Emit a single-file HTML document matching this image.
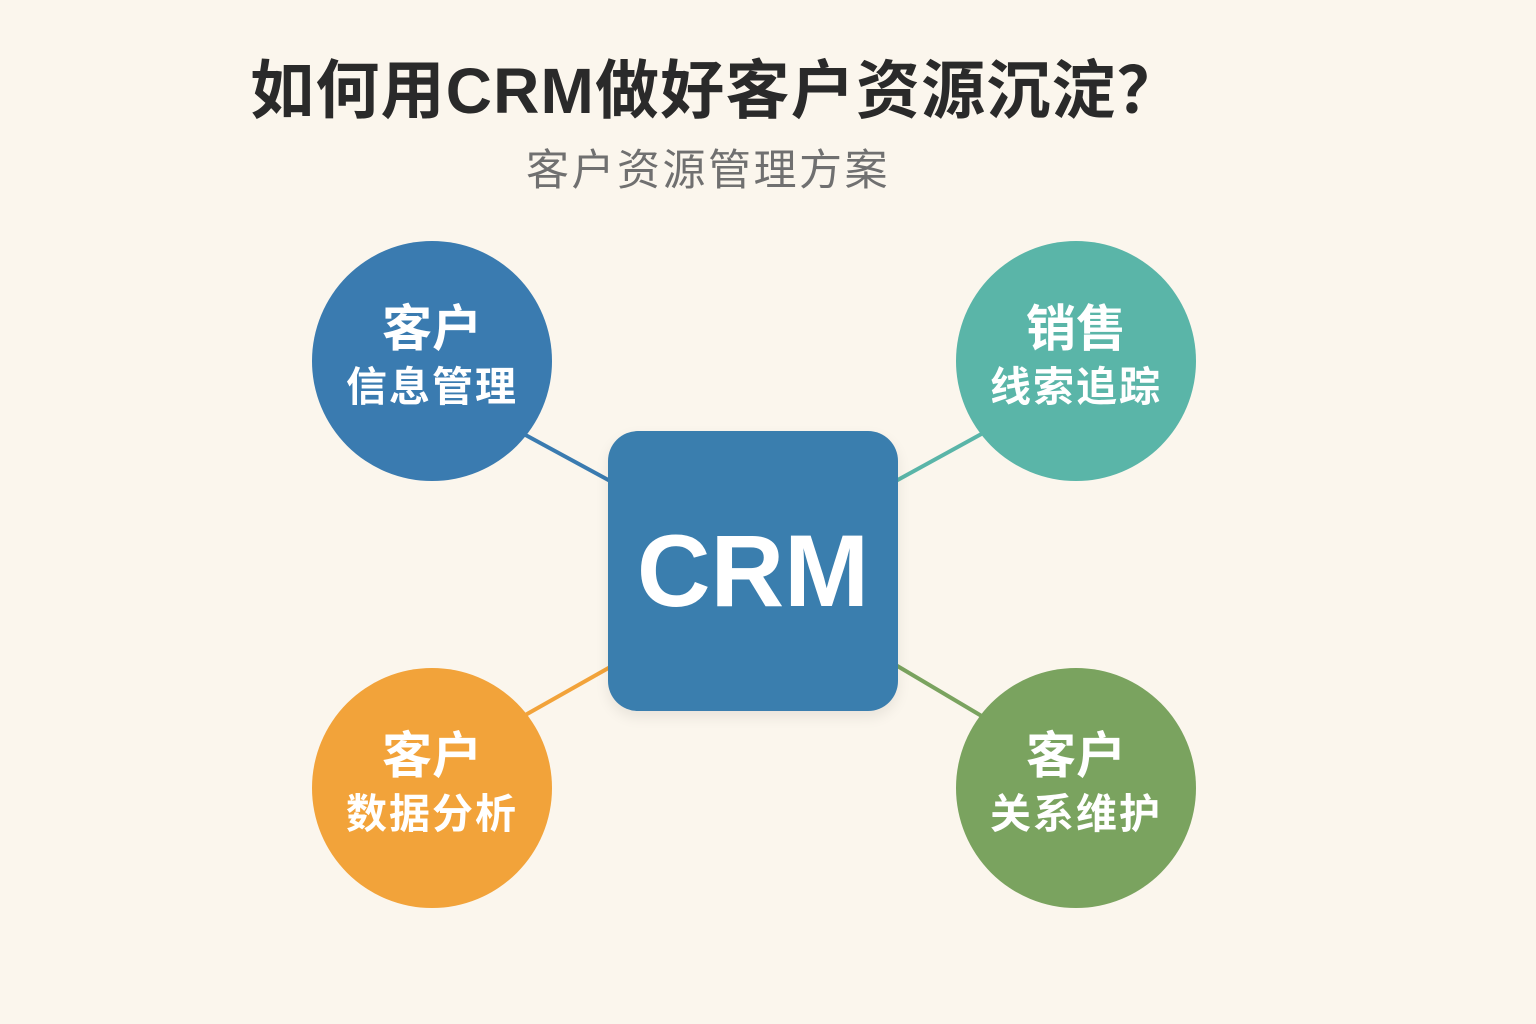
<!DOCTYPE html>
<html><head><meta charset="utf-8"><style>
body{margin:0;width:1536px;height:1024px;background:#fbf6ed;position:relative;overflow:hidden;font-family:"Liberation Sans","Noto Sans CJK SC",sans-serif}
.t{position:absolute;left:0;width:1432px;text-align:center;top:40px;font-size:64px;font-weight:bold;color:#2a2a2a;letter-spacing:1.2px}
.s{position:absolute;left:0;width:1416px;text-align:center;top:136px;font-size:43px;color:#707070;letter-spacing:2.5px}
.c{position:absolute;width:240px;height:240px;border-radius:50%;color:#fff;text-align:center;font-weight:bold}
.c .a{position:absolute;top:60px;width:100%;font-size:50px;line-height:56px}
.c .b{position:absolute;top:122px;width:100%;font-size:41px;line-height:48px;letter-spacing:2px}
.sq{position:absolute;left:608px;top:431px;width:290px;height:280px;border-radius:30px;background:#3a7eae;color:#fff;font-weight:bold;font-size:102px;text-align:center;line-height:280px;box-shadow:0 6px 14px rgba(0,0,0,.08)}
</style></head><body>
<svg width="1536" height="1024" style="position:absolute;left:0;top:0">
<line x1="520" y1="432" x2="612" y2="482" stroke="#3a7bb0" stroke-width="4"/>
<line x1="894" y1="482" x2="985" y2="432" stroke="#5ab5a8" stroke-width="4"/>
<line x1="612" y1="666" x2="520" y2="718" stroke="#f2a33a" stroke-width="4"/>
<line x1="894" y1="664" x2="985" y2="718" stroke="#7aa35f" stroke-width="4"/>
</svg>
<div class="t">如何用CRM做好客户资源沉淀？</div>
<div class="s">客户资源管理方案</div>
<div class="c" style="left:312px;top:241px;background:#3a7bb0"><div class="a">客户</div><div class="b">信息管理</div></div>
<div class="c" style="left:956px;top:241px;background:#5ab5a8"><div class="a">销售</div><div class="b">线索追踪</div></div>
<div class="c" style="left:312px;top:668px;background:#f2a33a"><div class="a">客户</div><div class="b">数据分析</div></div>
<div class="c" style="left:956px;top:668px;background:#7aa35f"><div class="a">客户</div><div class="b">关系维护</div></div>
<div class="sq">CRM</div>
</body></html>
